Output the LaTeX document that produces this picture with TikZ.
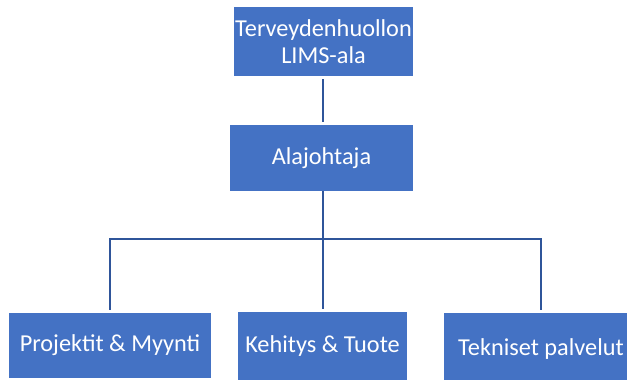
\documentclass[tikz,border=0pt]{standalone}
\usepackage{fontspec}
\setmainfont{Carlito}
\definecolor{boxblue}{HTML}{4472C4}
\definecolor{lineblue}{HTML}{2F559A}
\begin{document}
\begin{tikzpicture}[x=1pt,y=-1pt,
  box/.style={fill=boxblue, draw=none, inner sep=0pt, text=white,
    font=\fontsize{24.3}{27}\selectfont, align=center},
  txt/.style={text=white, inner sep=0pt, font=\fontsize{24.3}{27}\selectfont},
  conn/.style={draw=lineblue, line width=2.6pt}]
\useasboundingbox (0,0) rectangle (629,383);
\node[box, minimum width=179pt, minimum height=69pt] (top) at (323.5,41.5) {Terveydenhuollon\\LIMS-ala};
\node[box, minimum width=183pt, minimum height=66pt] (ala) at (321.5,158) {Alajohtaja};
\node[box, minimum width=202pt, minimum height=65pt] (proj) at (110,345.5) {Projektit \& Myynti};
\node[box, minimum width=169pt, minimum height=68pt] (keh) at (322.5,346) {Kehitys \& Tuote};
\node[box, minimum width=183pt, minimum height=67pt] (tek) at (535.5,346.5) {};
\node[txt] (tektxt) at (541,349) {Tekniset palvelut};
\coordinate (bar) at (323,239);
\draw[conn, shorten <=3pt, shorten >=3pt] (top.south -| bar) -- (ala.north -| bar);
\draw[conn] (ala.south -| bar) -- (bar);
\draw[conn, shorten >=3pt] (bar) -| (proj.north);
\draw[conn, shorten >=3pt] (bar) -- (keh.north -| bar);
\draw[conn, shorten >=3pt] (bar) -| ([xshift=5.5pt]tek.north);
\end{tikzpicture}
\end{document}
